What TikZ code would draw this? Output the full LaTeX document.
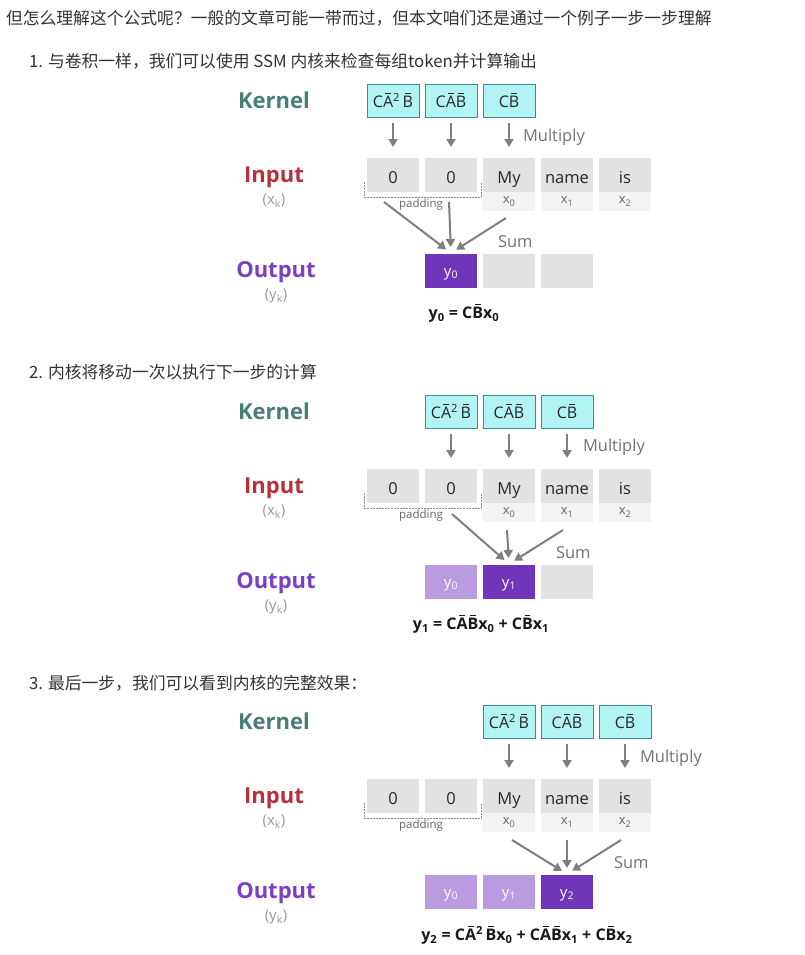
\documentclass[tikz,border=0pt]{standalone}
\usepackage{fontspec}
\setmainfont{Open Sans}
\newfontfamily\cjk{Noto Sans CJK SC}
\usepackage{xcolor}
\usepackage{tikz}
\usetikzlibrary{arrows.meta}
\usetikzlibrary{positioning}

\definecolor{kernelteal}{HTML}{4A7D78}
\definecolor{inputred}{HTML}{B8313A}
\definecolor{outputpurple}{HTML}{7B3FC4}
\definecolor{boxfill}{HTML}{B2F3F3}
\definecolor{boxedge}{HTML}{3F8C8C}
\definecolor{cellgray}{HTML}{E2E2E2}
\definecolor{subgray}{HTML}{F3F3F3}
\definecolor{outdark}{HTML}{7035B8}
\definecolor{outlight}{HTML}{B99CDF}
\definecolor{arrowgray}{HTML}{7F7F7F}

% short bar over one letter
\newcommand{\ob}[1]{\begingroup\setbox0\hbox{#1}%
  \rlap{\hbox to \wd0{\hss\rule[\dimexpr\ht0+0.14em\relax]{0.55\wd0}{0.07em}\hss}}\box0\endgroup}

\begin{document}
\begin{tikzpicture}[x=1pt, y=-1pt,
  kernelbox/.style={draw=boxedge, fill=boxfill, line width=0.8pt, minimum width=52pt,
    minimum height=33pt, inner sep=0pt, font=\fontsize{16}{16}\selectfont, text=black!85},
  cell/.style={fill=cellgray, minimum width=52pt, minimum height=34pt, inner sep=0pt,
    text height=20pt, text depth=4pt, font=\fontsize{16.5}{16.5}\selectfont, text=black!85},
  subcell/.style={fill=subgray, minimum width=52pt, minimum height=19pt, inner sep=0pt,
    font=\fontsize{13}{13}\selectfont, text=black!60},
  outcell/.style={cell, text=white, text height=13pt, text depth=3pt, font=\fontsize{15}{15}\selectfont},
  rowlabel/.style={font=\bfseries\fontsize{22}{22}\selectfont},
  sublabel/.style={font=\fontsize{15}{15}\selectfont, text=black!40},
  note/.style={anchor=west, inner sep=0pt, font=\fontsize{16.5}{16.5}\selectfont, text=black!55},
  padnote/.style={inner sep=0pt, font=\fontsize{11.5}{11.5}\selectfont, text=black!60},
  padline/.style={draw=black!45, densely dotted, line width=1pt},
  formula/.style={font=\bfseries\fontsize{16}{16}\selectfont, text=black!90},
  heading/.style={anchor=west, inner sep=0pt, font=\cjk\fontsize{16.8}{20}\selectfont, text=black!80},
  every path/.style={line width=2pt},
  mul/.style={->, draw=arrowgray, shorten <=6pt, shorten >=10pt},
  sumarrow/.style={->, draw=arrowgray, shorten >=6pt},
]
\tikzset{>={Triangle[length=8pt, width=9pt]}}

  \fill[white] (0,0) rectangle (805,955);
  \useasboundingbox (0,0) rectangle (805,955);

  \node[heading] (intro) at (5,18) {但怎么理解这个公式呢？一般的文章可能一带而过，但本文咱们还是通过一个例子一步一步理解};

  % Step 1
\begin{scope}[name prefix=p1-]
  % Nodes
  \node[heading] (title) at (28,61) {1. 与卷积一样，我们可以使用 SSM 内核来检查每组token并计算输出};
  \node[rowlabel, text=kernelteal] (kernel) at (274,100) {Kernel};
  \node[rowlabel, text=inputred] (input) at (274,177) {Input};
  \node[sublabel] (xk) at (274,201) {(x\textsubscript{k})};
  \node[rowlabel, text=outputpurple] (output) at (276,272) {Output};
  \node[sublabel] (yk) at (276,296) {(y\textsubscript{k})};

  \node[kernelbox] (K1) at (393,100.5) {C\ob{A}\textsuperscript{2}\,\ob{B}};
  \node[kernelbox] (K2) at (451,100.5) {C\ob{A}\ob{B}};
  \node[kernelbox] (K3) at (509,100.5) {C\ob{B}};
  \node[note] (mult) at (522,137) {Multiply};

  \node[cell] (C1) at (393,175) {0};
  \node[cell] (C2) at (451,175) {0};
  \node[cell] (C3) at (509,175) {My};
  \node[cell] (C4) at (567,175) {name};
  \node[cell] (C5) at (625,175) {is};
  \node[subcell] (X3) at (509,201.5) {x\textsubscript{0}};
  \node[subcell] (X4) at (567,201.5) {x\textsubscript{1}};
  \node[subcell] (X5) at (625,201.5) {x\textsubscript{2}};
  \draw[padline] (364,182) |- (481,197) -- (481,182);
  \node[padnote] (pad) at (421,205) {padding};

  \node[note] (sum) at (497,242) {Sum};
  \node[outcell, fill=outdark] (O1) at (451,271) {y\textsubscript{0}};
  \node[outcell] (O2) at (509,271) {};
  \node[outcell] (O3) at (567,271) {};
  \node[formula] (eq) at (464,313) {y\textsubscript{0} = C\ob{B}x\textsubscript{0}};

  \coordinate (s1) at (384,202);
  \coordinate (s2) at (449,202);
  \coordinate (s3) at (506,218);

  % Edges
  \draw[mul] (K1) -- (C1);
  \draw[mul] (K2) -- (C2);
  \draw[mul] (K3) -- (C3);
  \draw[sumarrow] (s1) -- (O1.north);
  \draw[sumarrow] (s2) -- (O1.north);
  \draw[sumarrow] (s3) -- (O1.north);
\end{scope}

  % Step 2
\begin{scope}[shift={(0,311)}, name prefix=p2-]
  % Nodes
  \node[heading] (title) at (28,61) {2. 内核将移动一次以执行下一步的计算};
  \node[rowlabel, text=kernelteal] (kernel) at (274,100) {Kernel};
  \node[rowlabel, text=inputred] (input) at (274,177) {Input};
  \node[sublabel] (xk) at (274,201) {(x\textsubscript{k})};
  \node[rowlabel, text=outputpurple] (output) at (276,272) {Output};
  \node[sublabel] (yk) at (276,296) {(y\textsubscript{k})};

  \node[kernelbox] (K1) at (451,100.5) {C\ob{A}\textsuperscript{2}\,\ob{B}};
  \node[kernelbox] (K2) at (509,100.5) {C\ob{A}\ob{B}};
  \node[kernelbox] (K3) at (567,100.5) {C\ob{B}};
  \node[note] (mult) at (582,136) {Multiply};

  \node[cell] (C1) at (393,175) {0};
  \node[cell] (C2) at (451,175) {0};
  \node[cell] (C3) at (509,175) {My};
  \node[cell] (C4) at (567,175) {name};
  \node[cell] (C5) at (625,175) {is};
  \node[subcell] (X3) at (509,201.5) {x\textsubscript{0}};
  \node[subcell] (X4) at (567,201.5) {x\textsubscript{1}};
  \node[subcell] (X5) at (625,201.5) {x\textsubscript{2}};
  \draw[padline] (364,182) |- (481,197) -- (481,182);
  \node[padnote] (pad) at (421,205) {padding};

  \node[note] (sum) at (555,242) {Sum};
  \node[outcell, fill=outlight] (O1) at (451,271) {y\textsubscript{0}};
  \node[outcell, fill=outdark] (O2) at (509,271) {y\textsubscript{1}};
  \node[outcell] (O3) at (567,271) {};
  \node[formula] (eq) at (481,313) {y\textsubscript{1} = C\ob{A}\ob{B}x\textsubscript{0} + C\ob{B}x\textsubscript{1}};

  \coordinate (s1) at (452,203);
  \coordinate (s2) at (507,219);
  \coordinate (s3) at (563,219);

  % Edges
  \draw[mul] (K1) -- (C2);
  \draw[mul] (K2) -- (C3);
  \draw[mul] (K3) -- (C4);
  \draw[sumarrow] (s1) -- (O2.north);
  \draw[sumarrow] (s2) -- (O2.north);
  \draw[sumarrow] (s3) -- (O2.north);
\end{scope}

  % Step 3
\begin{scope}[shift={(0,621)}, name prefix=p3-]
  % Nodes
  \node[heading] (title) at (28,62) {3. 最后一步，我们可以看到内核的完整效果：};
  \node[rowlabel, text=kernelteal] (kernel) at (274,100) {Kernel};
  \node[rowlabel, text=inputred] (input) at (274,177) {Input};
  \node[sublabel] (xk) at (274,201) {(x\textsubscript{k})};
  \node[rowlabel, text=outputpurple] (output) at (276,272) {Output};
  \node[sublabel] (yk) at (276,296) {(y\textsubscript{k})};

  \node[kernelbox] (K1) at (509,100.5) {C\ob{A}\textsuperscript{2}\,\ob{B}};
  \node[kernelbox] (K2) at (567,100.5) {C\ob{A}\ob{B}};
  \node[kernelbox] (K3) at (625,100.5) {C\ob{B}};
  \node[note] (mult) at (639,137) {Multiply};

  \node[cell] (C1) at (393,175) {0};
  \node[cell] (C2) at (451,175) {0};
  \node[cell] (C3) at (509,175) {My};
  \node[cell] (C4) at (567,175) {name};
  \node[cell] (C5) at (625,175) {is};
  \node[subcell] (X3) at (509,201.5) {x\textsubscript{0}};
  \node[subcell] (X4) at (567,201.5) {x\textsubscript{1}};
  \node[subcell] (X5) at (625,201.5) {x\textsubscript{2}};
  \draw[padline] (364,182) |- (481,197) -- (481,182);
  \node[padnote] (pad) at (421,205) {padding};

  \node[note] (sum) at (613,242) {Sum};
  \node[outcell, fill=outlight] (O1) at (451,271) {y\textsubscript{0}};
  \node[outcell, fill=outlight] (O2) at (509,271) {y\textsubscript{1}};
  \node[outcell, fill=outdark] (O3) at (567,271) {y\textsubscript{2}};
  \node[formula] (eq) at (527,314) {y\textsubscript{2} = C\ob{A}\textsuperscript{2}\,\ob{B}x\textsubscript{0} + C\ob{A}\ob{B}x\textsubscript{1} + C\ob{B}x\textsubscript{2}};

  \coordinate (s1) at (512,219);
  \coordinate (s2) at (567,219);
  \coordinate (s3) at (621,219);

  % Edges
  \draw[mul] (K1) -- (C3);
  \draw[mul] (K2) -- (C4);
  \draw[mul] (K3) -- (C5);
  \draw[sumarrow] (s1) -- (O3.north);
  \draw[sumarrow] (s2) -- (O3.north);
  \draw[sumarrow] (s3) -- (O3.north);
\end{scope}
\end{tikzpicture}
\end{document}
